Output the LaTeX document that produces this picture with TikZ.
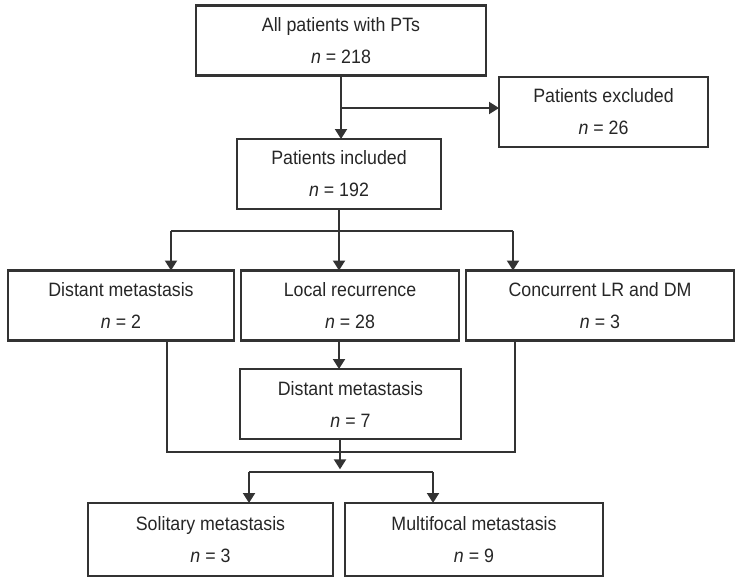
\documentclass[tikz,border=0pt]{standalone}
\usepackage{fontspec}
\setmainfont{Liberation Sans}[FakeStretch=0.92]
\usetikzlibrary{arrows.meta}

\begin{document}
\begin{tikzpicture}[x=0.75pt,y=-0.75pt,
    box/.style={draw=black!80,line width=1.8pt,fill=white,align=center,
      inner sep=0pt,outer sep=0pt,minimum height=52.5pt,text=black!85,
      font=\fontsize{14.5}{24}\selectfont},
    link/.style={draw=black!80,line width=1.5pt},
    arr/.style={link,-{Triangle[length=7.5pt,width=9pt]}}]
    \useasboundingbox (0,0) rectangle (748,586);
    \node[box,minimum width=217.5pt] (all) at (341,40.5) {All patients with PTs\\ \textit{n} = 218};
    \node[box,minimum width=156.75pt] (excl) at (603.5,112) {Patients excluded\\ \textit{n} = 26};
    \node[box,minimum width=153pt] (incl) at (339,174) {Patients included\\ \textit{n} = 192};
    \node[box,minimum width=169.5pt] (dm) at (121,305.5) {Distant metastasis\\ \textit{n} = 2};
    \node[box,minimum width=163.5pt] (lr) at (350,305.5) {Local recurrence\\ \textit{n} = 28};
    \node[box,minimum width=201pt] (conc) at (600,305.5) {Concurrent LR and DM\\ \textit{n} = 3};
    \node[box,minimum width=165.75pt] (dmlr) at (350.5,404) {Distant metastasis\\ \textit{n} = 7};
    \node[box,minimum width=183.75pt,minimum height=54.75pt] (sol) at (210.5,539.5) {Solitary metastasis\\ \textit{n} = 3};
    \node[box,minimum width=193.5pt,minimum height=54.75pt] (multi) at (474,539.5) {Multifocal metastasis\\ \textit{n} = 9};
    % branch points
    \coordinate (excl-j) at (341,108);
    \coordinate (row-l) at (171,231);
    \coordinate (row-r) at (513,231);
    \coordinate (loop-l) at (167,452);
    \coordinate (loop-r) at (515,452);
    \coordinate (split) at (340,472);
    \coordinate (bot-l) at (249,472);
    \coordinate (bot-r) at (433,472);
    % connectors
    \draw[arr] (all.south) -- (all.south |- incl.north);
    \draw[arr] (excl-j) -- (excl-j -| excl.west);
    \draw[link] (incl.south) -- (incl.south |- row-l);
    \draw[link] (row-l) -- (row-r);
    \draw[arr] (row-l) -- (row-l |- dm.north);
    \draw[arr] (incl.south |- row-l) -- (incl.south |- lr.north);
    \draw[arr] (row-r) -- (row-r |- conc.north);
    \draw[arr] (incl.south |- lr.south) -- (incl.south |- dmlr.north);
    \draw[link] (loop-l |- dm.south) -- (loop-l) -- (loop-r) -- (loop-r |- conc.south);
    \draw[arr,shorten >=2pt] (split |- dmlr.south) -- (split);
    \draw[link] (bot-l) -- (bot-r);
    \draw[arr] (bot-l) -- (bot-l |- sol.north);
    \draw[arr] (bot-r) -- (bot-r |- multi.north);
\end{tikzpicture}
\end{document}
